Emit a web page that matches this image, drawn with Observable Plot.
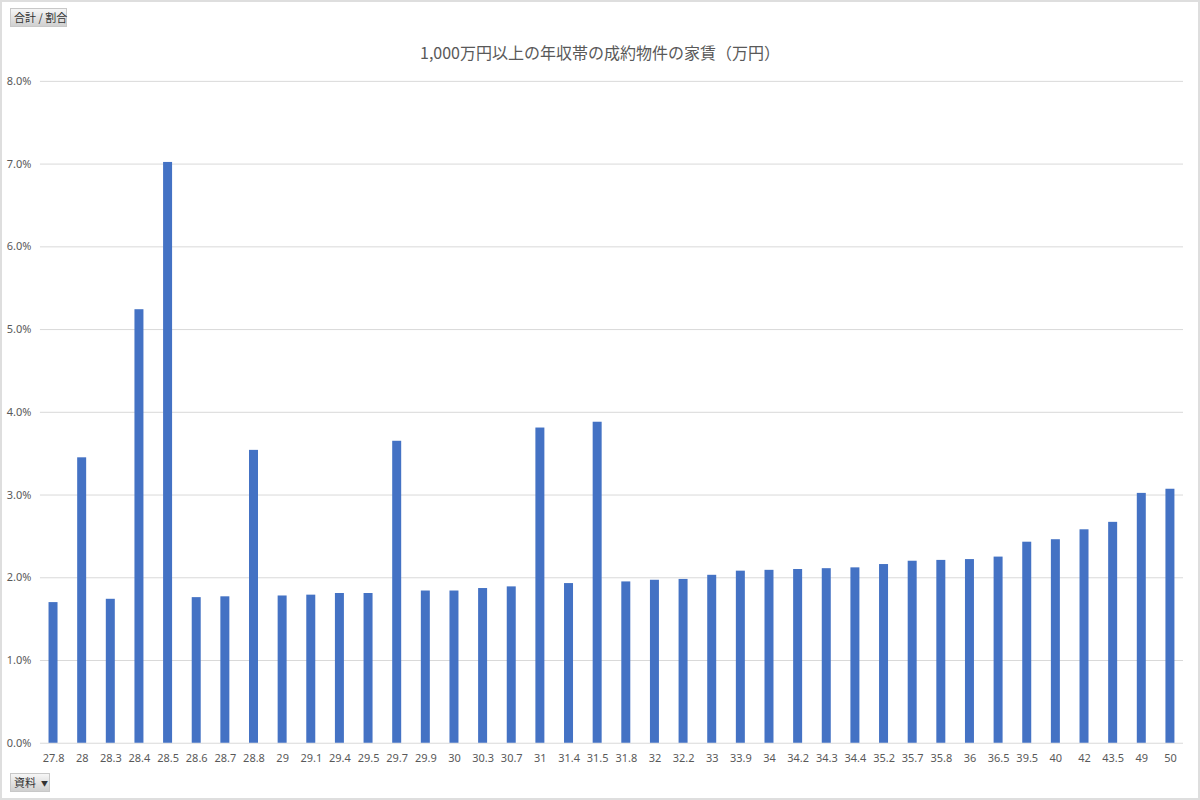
<!DOCTYPE html>
<html>
<head>
<meta charset="utf-8">
<script src="https://cdn.jsdelivr.net/npm/d3@7"></script>
<script src="https://cdn.jsdelivr.net/npm/@observablehq/plot@0.6"></script>
<style>
  html, body { margin: 0; padding: 0; background: #fff; }
  #wrap { position: relative; width: 1200px; height: 800px; box-sizing: border-box; border: 2px solid #dedede; overflow: hidden; font-family: "Noto Sans CJK JP", "Noto Sans", sans-serif; }
  #chart { position: absolute; left: -2px; top: -2px; }
  .btn { position: absolute; box-sizing: border-box; font-size: 11px; color: #333; line-height: 17px; padding: 0 3px; border: 1px solid #c8c8c8; background: linear-gradient(#f6f6f6, #d0d0d0); white-space: nowrap; }
  #title { position: absolute; left: 0; width: 1196px; top: 38px; text-align: center; font-size: 16px; color: #595959; }
</style>
</head>
<body>
<div id="wrap">
  <div id="chart"></div>
  <div id="title">1,000万円以上の年収帯の成約物件の家賃（万円）</div>
  <div class="btn" style="left:8px; top:6px; width:57px; height:19px;">合計 / 割合</div>
  <div class="btn" style="left:8px; top:771px; width:40px; height:19px;">資料&nbsp;&nbsp;<span style="font-size:7px; vertical-align:1px">▼</span></div>
</div>
<script>
const categories = ["27.8","28","28.3","28.4","28.5","28.6","28.7","28.8","29","29.1","29.4","29.5","29.7","29.9","30","30.3","30.7","31","31.4","31.5","31.8","32","32.2","33","33.9","34","34.2","34.3","34.4","35.2","35.7","35.8","36","36.5","39.5","40","42","43.5","49","50"];
const shares = [1.70,3.45,1.74,5.24,7.02,1.76,1.77,3.54,1.78,1.79,1.81,1.81,3.65,1.84,1.84,1.87,1.89,3.81,1.93,3.88,1.95,1.97,1.98,2.03,2.08,2.09,2.10,2.11,2.12,2.16,2.20,2.21,2.22,2.25,2.43,2.46,2.58,2.67,3.02,3.07];
const yTicks = [0,0.01,0.02,0.03,0.04,0.05,0.06,0.07,0.08];

const data = categories.map((c, i) => ({cat: c, value: shares[i] / 100}));

const chart = Plot.plot({
  width: 1200,
  height: 800,
  marginLeft: 40,
  marginRight: 15,
  marginTop: 81,
  marginBottom: 56,
  style: {fontFamily: "'Noto Sans', 'DejaVu Sans', sans-serif", fontSize: "11px", color: "#595959", background: "transparent"},
  x: {domain: categories, paddingInner: 0.686, paddingOuter: 0.3, round: false, label: null, tickSize: 0, tickPadding: 11},
  y: {domain: [0, 0.08], ticks: yTicks, tickFormat: d3.format(".1%"), label: null, tickSize: 0, tickPadding: 9},
  marks: [
    Plot.ruleY(yTicks, {stroke: "#d9d9d9", strokeWidth: 1}),
    Plot.barY(data, {x: "cat", y: "value", fill: "#4472c4"})
  ]
});
document.getElementById("chart").appendChild(chart);
</script>
</body>
</html>
